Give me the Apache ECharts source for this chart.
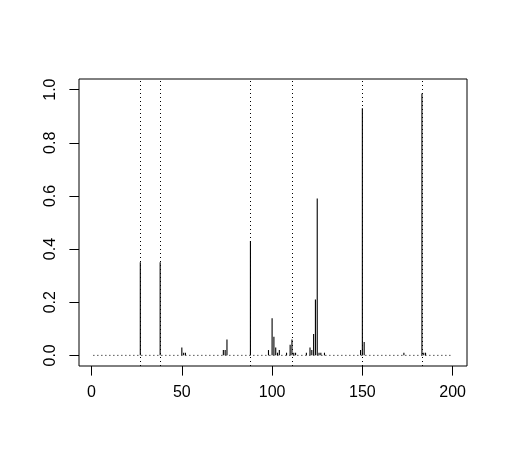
<!DOCTYPE html>
<html>
<head>
<meta charset="utf-8">
<script src="https://cdn.jsdelivr.net/npm/echarts@6/dist/echarts.min.js"></script>
<style>
html,body{margin:0;padding:0;background:#fff;}
#chart{width:508px;height:464px;}
</style>
</head>
<body>
<div id="chart"></div>
<script>
// Data (type "h" spikes)
var spikeX = [27, 38, 50, 51, 52, 73, 74, 75, 88, 98, 100, 101, 102, 103, 104, 108, 110, 111, 112, 113,
              119, 121, 122, 123, 124, 125, 126, 127, 129, 149, 150, 151, 173, 183, 184, 185];
var spikeY = [0.35, 0.35, 0.03, 0.01, 0.01, 0.02, 0.02, 0.06, 0.43, 0.02, 0.14, 0.07, 0.03, 0.01, 0.02, 0.01, 0.04, 0.06, 0.01, 0.01,
              0.01, 0.03, 0.02, 0.08, 0.21, 0.59, 0.01, 0.01, 0.01, 0.02, 0.93, 0.05, 0.01, 0.985, 0.01, 0.01];
var markerX = [27, 38, 88, 111, 150, 183];
var baseline = [[1, 0], [200, 0]];
var xTicks = [0, 50, 100, 150, 200];
var yTicks = [0, 0.2, 0.4, 0.6, 0.8, 1.0];

var spikes = spikeX.map(function (x, i) { return [x, spikeY[i]]; });

var chart = echarts.init(document.getElementById('chart'), null, {renderer: 'canvas'});
var font = 'Liberation Sans, Arial, Helvetica, sans-serif';
chart.setOption({
  animation: false,
  backgroundColor: '#fff',
  grid: {left: 79, top: 79, right: 41, bottom: 98, show: true, borderColor: '#000', borderWidth: 1, backgroundColor: 'transparent', containLabel: false},
  xAxis: {
    type: 'value', min: -6.96, max: 207.96,
    axisLine: {show: false, onZero: false},
    splitLine: {show: false},
    axisTick: {show: true, inside: false, length: 9.6, lineStyle: {color: '#000', width: 1}, customValues: xTicks},
    axisLabel: {show: true, margin: 19, color: '#000', fontSize: 16, fontFamily: font, customValues: xTicks,
      formatter: function (v) { return String(v); }}
  },
  yAxis: {
    type: 'value', min: -0.04, max: 1.04,
    axisLine: {show: false, onZero: false},
    splitLine: {show: false},
    axisTick: {show: true, inside: false, length: 9.6, lineStyle: {color: '#000', width: 1}, customValues: yTicks},
    axisLabel: {show: true, rotate: 90, margin: 20, color: '#000', fontSize: 16, fontFamily: font, customValues: yTicks,
      formatter: function (v) { return v.toFixed(1); }}
  },
  series: [
    {
      type: 'line',
      data: baseline,
      symbol: 'none',
      silent: true,
      lineStyle: {color: '#000', width: 1, type: [1, 3]},
      markLine: {
        silent: true,
        symbol: ['none', 'none'],
        label: {show: false},
        lineStyle: {color: '#000', width: 1, type: [1, 3]},
        data: markerX.map(function (x) { return {xAxis: x}; })
      }
    },
    {
      type: 'custom',
      silent: true,
      data: spikes,
      renderItem: function (params, api) {
        var p0 = api.coord([api.value(0), 0]);
        var p1 = api.coord([api.value(0), api.value(1)]);
        return {
          type: 'line',
          shape: {x1: p0[0], y1: p0[1], x2: p1[0], y2: p1[1]},
          style: {stroke: '#000', lineWidth: 1.1}
        };
      }
    }
  ]
});
</script>
</body>
</html>
